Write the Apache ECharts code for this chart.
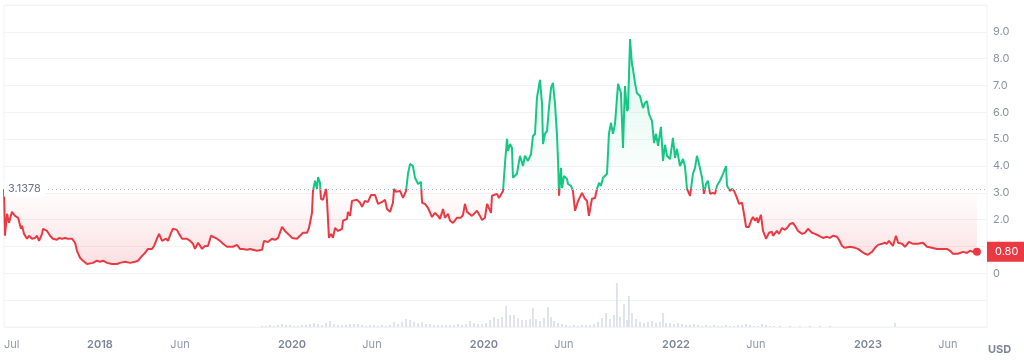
<!DOCTYPE html>
<html><head><meta charset="utf-8">
<script src="https://cdn.jsdelivr.net/npm/echarts@6/dist/echarts.min.js"></script>
<style>html,body{margin:0;padding:0;background:#fff}#c{width:1024px;height:362px}</style>
</head><body><div id="c"></div>
<script>
// x values are months since July 2017 (start of the chart)
const basePrice = 3.1378;
const lastPrice = 0.80;
const pricePoints = [
[0,3.1378],[0.06,1.40],[0.19,2.22],[0.31,1.88],[0.5,2.29],[0.69,2.14],[0.88,2.07],[1.06,1.66],[1.13,1.77],[1.25,1.47],[1.44,1.29],[1.56,1.40],[1.75,1.29],[1.94,1.32],[2.06,1.40],[2.19,1.21],[2.38,1.47],[2.44,1.66],[2.69,1.58],[2.88,1.40],[3.06,1.29],[3.31,1.25],[3.44,1.32],[3.63,1.29],[3.81,1.32],[4.0,1.29],[4.25,1.29],[4.44,1.14],[4.56,0.84],[4.75,0.58],[4.94,0.47],[5.19,0.35],[5.31,0.35],[5.56,0.39],[5.81,0.47],[6.0,0.43],[6.19,0.47],[6.44,0.39],[6.75,0.35],[7.06,0.35],[7.25,0.39],[7.56,0.43],[7.88,0.39],[8.19,0.43],[8.38,0.47],[8.63,0.65],[8.81,0.76],[9.0,0.91],[9.25,0.91],[9.38,1.02],[9.56,1.29],[9.69,1.47],[9.88,1.21],[10.0,1.14],[10.13,1.29],[10.25,1.21],[10.44,1.51],[10.56,1.66],[10.81,1.62],[10.94,1.47],[11.13,1.29],[11.44,1.29],[11.63,1.21],[11.81,1.10],[11.94,0.91],[12.13,1.14],[12.25,1.14],[12.38,0.91],[12.56,1.02],[12.75,1.02],[12.94,1.40],[13.06,1.40],[13.31,1.29],[13.5,1.21],[13.69,1.10],[13.94,0.99],[14.31,0.99],[14.56,1.06],[14.75,0.91],[14.94,0.91],[15.19,0.88],[15.38,0.91],
[15.81,0.84],[16.13,0.88],[16.25,1.21],[16.5,1.17],[16.75,1.29],[16.94,1.25],[17.13,1.32],[17.38,1.73],[17.56,1.58],[17.75,1.47],[18.0,1.32],[18.06,1.25],[18.31,1.29],[18.5,1.40],[18.69,1.51],[18.94,1.51],[19.06,1.69],[19.25,2.25],[19.31,3.07],[19.44,3.45],[19.56,3.15],[19.63,3.59],[19.75,3.37],[19.81,2.78],[19.94,2.74],[20.13,3.15],[20.19,2.70],[20.31,1.32],[20.44,1.47],[20.56,1.32],[20.69,1.69],[20.88,1.58],[21.13,1.66],[21.19,1.96],[21.44,2.03],[21.5,2.29],[21.63,2.14],[21.75,2.70],[22.06,2.74],[22.25,2.63],[22.38,2.48],[22.56,2.70],[22.75,2.66],[22.94,2.92],[23.19,2.92],[23.38,2.59],[23.63,2.66],[23.81,2.74],[23.94,2.40],[24.13,2.29],[24.31,2.63],[24.38,3.15],[24.5,3.04],[24.75,3.07],[24.94,2.81],[25.13,3.07],[25.25,3.71],[25.38,4.08],[25.56,4.00],[25.69,3.56],[25.88,3.33],[26.06,3.41],[26.13,2.63],[26.31,2.59],[26.5,2.44],[26.75,2.10],[26.94,2.25],[27.13,2.14],[27.25,2.03],[27.44,2.40],[27.56,2.07],[27.75,2.22],[27.88,1.96],[28.06,1.88],[28.31,2.07],[28.56,2.07],[28.69,2.18],[28.81,2.59],[28.94,2.29],[29.25,2.14],[29.31,2.07],[29.56,2.33],[29.75,2.14],[29.88,1.99],[30.06,2.07],[30.19,2.59],[30.31,2.63],[30.44,2.25],[30.5,2.89],[30.81,2.96],[30.94,2.81],
[31.19,3.07],[31.31,4.08],[31.44,5.01],[31.5,4.56],[31.63,4.82],[31.75,4.67],[31.81,3.56],[32.06,3.71],[32.13,3.74],[32.25,4.38],[32.44,4.00],[32.56,4.38],[32.75,4.19],[32.94,4.45],[33.06,5.12],[33.19,5.20],[33.31,6.54],[33.38,6.54],[33.5,7.21],[33.63,6.31],[33.69,4.82],[33.81,5.20],[33.94,5.31],[34.06,6.16],[34.19,6.91],[34.31,7.10],[34.44,6.31],[34.56,5.20],[34.63,4.19],[34.69,2.89],[34.81,3.93],[34.88,3.18],[35.0,3.63],[35.19,3.52],[35.25,3.33],[35.44,3.26],[35.56,3.07],[35.69,2.33],[35.88,2.70],[36.13,3.00],[36.31,2.78],[36.44,2.70],[36.56,2.14],[36.75,2.78],[36.94,2.81],[37.06,3.15],[37.19,3.37],[37.31,3.26],[37.44,3.56],[37.69,3.71],[37.81,5.20],[37.94,5.61],[38.06,5.20],[38.19,5.57],[38.31,5.61],[38.38,7.06],[38.56,6.72],[38.69,4.67],[38.81,6.98],[38.94,6.05],[39.0,6.13],[39.13,8.73],[39.25,7.80],[39.31,7.62],[39.44,7.10],[39.56,6.72],[39.75,6.61],[39.94,6.16],[40.06,6.35],[40.19,6.42],[40.31,5.94],[40.5,5.68],[40.63,4.86],[40.75,5.20],[40.88,4.75],[41.06,5.46],[41.19,4.19],[41.31,4.79],[41.44,4.38],[41.63,4.26],[41.81,5.05],[41.94,4.30],[42.06,4.64],[42.25,4.00],[42.44,4.26],[42.56,4.00],[42.69,3.15],[42.88,2.89],[43.06,3.71],[43.19,3.93],[43.31,4.38],[43.44,4.08],[43.63,3.56],[43.75,2.96],[43.88,3.33],[44.0,3.45],[44.13,2.96],[44.31,3.00],[44.44,2.96],[44.56,3.26],[44.75,3.45],[44.94,3.71],[45.0,3.74],[45.13,4.00],[45.19,3.26],[45.38,3.07],[45.5,3.15],[45.63,3.07],[45.81,2.81],[45.94,2.59],[46.13,2.63],[46.25,2.22],[46.38,1.73],[46.56,1.73],
[46.69,1.96],[46.81,2.10],[46.94,1.96],[47.06,2.07],[47.13,1.88],[47.31,2.18],[47.44,1.58],[47.63,1.29],[47.81,1.51],[48.0,1.55],[48.06,1.40],[48.31,1.58],[48.44,1.47],[48.63,1.69],[48.81,1.62],[48.94,1.69],[49.13,1.84],[49.31,1.88],[49.44,1.77],[49.63,1.58],[49.88,1.47],[50.06,1.51],[50.25,1.66],[50.5,1.51],[50.69,1.47],[50.94,1.40],[51.19,1.32],[51.44,1.36],[51.63,1.32],[51.81,1.40],[52.06,1.36],[52.19,1.25],[52.38,1.02],[52.56,0.95],[52.88,0.99],[53.19,0.95],[53.38,0.91],[53.63,0.80],[53.81,0.73],[54.0,0.69],[54.25,0.80],[54.44,0.95],[54.63,1.06],[54.88,1.10],[55.06,1.14],[55.19,1.10],[55.31,1.21],[55.56,1.02],[55.75,1.40],[55.88,1.14],[56.13,1.10],[56.31,0.99],[56.56,1.17],[56.81,1.10],[57.13,1.10],[57.44,1.14],[57.69,0.99],[58.0,0.95],[58.31,0.91],[58.63,0.91],[58.94,0.91],[59.13,0.84],[59.31,0.73],[59.63,0.73],[59.94,0.80],[60.19,0.76],[60.38,0.84],[60.56,0.80],[60.81,0.80]
];
const volumePoints = [
[16.13,1],[16.38,1],[16.63,2],[16.88,1],[17.13,2],[17.38,3],[17.63,2],[17.88,2],[18.13,1],[18.38,1],[18.63,2],[18.88,2],[19.13,3],[19.38,4],[19.63,3],[19.88,2],[20.13,4],[20.38,6],[20.63,3],[20.88,2],[21.13,2],[21.38,2],[21.63,3],[21.88,3],[22.13,3],[22.38,2],[22.63,1],[22.88,2],[23.13,2],[23.38,1],[23.63,2],[23.88,1],[24.13,2],[24.38,5],[24.63,3],[24.88,5],[25.13,8],[25.38,7],[25.63,5],[25.88,4],[26.13,5],[26.38,3],[26.63,3],[26.88,2],[27.13,2],[27.38,2],[27.63,2],[27.88,2],[28.13,2],[28.38,3],[28.63,2],[28.88,3],[29.13,6],[29.38,4],[29.63,3],[29.88,3],[30.13,4],[30.38,7],[30.63,10],[30.88,8],[31.13,10],[31.38,21],[31.63,12],[31.88,12],[32.13,9],[32.38,7],[32.63,7],[32.88,8],[33.06,19],[33.25,8],[33.5,6],[33.75,9],[34.0,20],[34.19,10],[34.38,6],[34.63,4],[34.88,3],[35.13,2],[35.38,1],[35.63,2],[35.88,1],[36.13,2],[36.38,2],[36.63,2],[36.88,3],[37.13,5],[37.38,9],[37.63,14],[37.88,8],[38.13,12],[38.31,44],[38.5,10],[38.75,23],[38.94,7],[39.06,31],[39.25,14],[39.5,8],[39.75,5],[40.0,4],[40.25,5],[40.5,6],[40.75,4],[41.0,5],[41.19,14],[41.38,4],[41.63,4],[41.88,3],[42.13,4],[42.38,3],[42.63,2],[42.88,2],[43.13,3],[43.38,2],[43.63,1],[43.88,2],[44.13,1],[44.38,2],[44.63,1],[44.88,1],[45.13,2],[45.38,1],[45.63,1],[45.88,2],[46.13,2],[46.38,3],[46.63,2],[46.88,1],[47.13,1],[47.38,3],[47.63,2],[47.88,1],[48.13,1],[48.5,1],[49.13,1],[49.75,1],[50.38,1],[51.0,1],[51.63,1],[55.69,4]
];
const tickMonths = [0, 6, 11, 18, 23, 30, 35, 42, 47, 54, 59];
const tickLabels = ['Jul', '2018', 'Jun', '2020', 'Jun', '2020', 'Jun', '2022', 'Jun', '2023', 'Jun'];
const priceTicks = [0, 1, 2, 3, 4, 5, 6, 7, 8, 9];
const currencyLabel = 'USD';

const RED = '#ea3943', GREEN = '#16c784';
const xMax = 61.44, yMin = -2, yMax = 10;
const chart = echarts.init(document.getElementById('c'), null, {renderer: 'canvas'});
const option = {
  animation: false,
  title: {text: currencyLabel, left: 988, top: 344,
          textStyle: {fontFamily: 'Inter', fontSize: 11, fontWeight: 700, color: '#7d8596'}, padding: 0},
  grid: [
    {left: 4, right: 37, top: 5, bottom: 35, show: true, borderColor: '#eff2f5', borderWidth: 1},
    {left: 4, right: 37, top: 282, bottom: 35}
  ],
  xAxis: [
    {type: 'value', gridIndex: 0, min: 0, max: xMax,
     axisLine: {show: false}, axisTick: {show: false}, splitLine: {show: false},
     axisLabel: {
       customValues: tickMonths, margin: 12, alignMinLabel: 'left', showMinLabel: true, showMaxLabel: true,
       formatter: function (v) {
         const i = tickMonths.indexOf(v);
         if (i < 0) return '';
         const s = tickLabels[i];
         return /^\d+$/.test(s) ? '{y|' + s + '}' : '{m|' + s + '}';
       },
       rich: {
         y: {fontFamily: 'Inter', fontSize: 11, fontWeight: 600, color: '#7d8596'},
         m: {fontFamily: 'Inter', fontSize: 11, color: '#8f97a6'}
       }
     }},
    {type: 'value', gridIndex: 1, min: 0, max: xMax, show: false}
  ],
  yAxis: [
    {type: 'value', gridIndex: 0, position: 'right', min: yMin, max: yMax, interval: 1,
     axisLine: {show: false}, axisTick: {show: false},
     splitLine: {lineStyle: {color: '#f1f3f6', width: 1}},
     axisLabel: {
       customValues: priceTicks, margin: 6, align: 'left',
       fontFamily: 'Inter', fontSize: 11, color: '#8a93a3',
       formatter: function (v) { return v === 0 ? '0' : v.toFixed(1); }
     }},
    {type: 'value', gridIndex: 1, min: 0, max: 45, show: false}
  ],
  visualMap: {
    show: false, type: 'piecewise', seriesIndex: 0, dimension: 1,
    pieces: [{gte: yMin, lt: basePrice, color: RED}, {gte: basePrice, lte: yMax, color: GREEN}]
  },
  series: [
    {
      type: 'line', xAxisIndex: 0, yAxisIndex: 0, data: pricePoints,
      showSymbol: false, smooth: false, z: 3,
      lineStyle: {width: 2},
      areaStyle: {
        origin: basePrice,
        color: {type: 'linear', x: 0, y: 5, x2: 0, y2: 327, global: true,
          colorStops: [
            {offset: 0, color: 'rgba(22,199,132,0.28)'},
            {offset: 0.568, color: 'rgba(22,199,132,0.0)'},
            {offset: 0.569, color: 'rgba(234,57,67,0.0)'},
            {offset: 0.80, color: 'rgba(234,57,67,0.22)'},
            {offset: 1, color: 'rgba(234,57,67,0.26)'}
          ]}
      },
      markLine: {
        silent: true, symbol: 'none', animation: false,
        data: [
          {yAxis: basePrice,
           lineStyle: {color: '#b3bac5', type: [1, 3], width: 1},
           label: {show: true, position: 'insideStart', distance: 0, formatter: String(basePrice),
                   backgroundColor: '#fff', padding: [2, 4], color: '#6b7385', fontFamily: 'Inter', fontSize: 11}},
          {yAxis: lastPrice,
           lineStyle: {color: 'rgba(0,0,0,0)', width: 0},
           label: {show: true, position: 'end', distance: 0, formatter: lastPrice.toFixed(2),
                   backgroundColor: RED, color: '#fff', padding: [4, 10, 4, 8], lineHeight: 12,
                   fontFamily: 'Inter', fontSize: 11}}
        ]
      },
      markPoint: {
        silent: true, animation: false,
        data: [{coord: pricePoints[pricePoints.length - 1], symbol: 'circle', symbolSize: 8,
                itemStyle: {color: RED}, label: {show: false}}]
      }
    },
    {
      type: 'bar', xAxisIndex: 1, yAxisIndex: 1, data: volumePoints,
      barWidth: 1.6, itemStyle: {color: '#d9ddea'}, silent: true
    }
  ]
};
chart.setOption(option);
</script></body></html>
